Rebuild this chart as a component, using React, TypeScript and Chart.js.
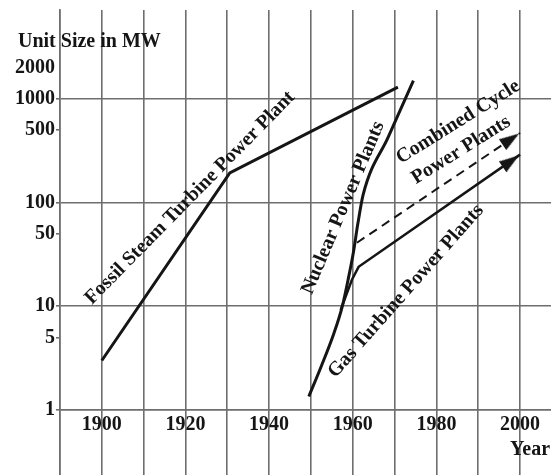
import React, { useEffect, useRef } from 'react';
import { Chart, registerables } from 'chart.js';

Chart.register(...registerables);

// ---- Data ----
const fossilYears = [1900, 1930.6, 1970.8];
const fossilMW = [3.0, 193, 1300];

const nuclearYears = [1949.5, 1952.4, 1955.5, 1957.5, 1959.0, 1960.2, 1961.2, 1962.5, 1968.5, 1974.5];
const nuclearMW = [1.35, 2.6, 5.5, 10, 19, 34, 62, 120, 430, 1500];

const gasYears = [1957.1, 1959.8, 1961.4, 2000];
const gasMW = [9.2, 18, 24, 290];

const combinedYears = [1961, 2000];
const combinedMW = [41, 469];

const arrowYears = [1997.8, 1997.8];
const arrowMW = [409, 251];

const xGridYears = [1890, 1900, 1910, 1920, 1930, 1940, 1950, 1960, 1970, 1980, 1990, 2000];
const xLabelYears = [1900, 1920, 1940, 1960, 1980, 2000];
const yTickValues = [1, 5, 10, 50, 100, 500, 1000, 2000];
const yGridValues = [1, 10, 100, 1000];

const yTitle = 'Unit Size in MW';
const xTitle = 'Year';

const labels = [
  { text: 'Fossil Steam Turbine Power Plant', year: 1921.1, mw: 111, angle: -45.5 },
  { text: 'Nuclear Power Plants', year: 1957.7, mw: 89, angle: -67 },
  { text: 'Combined Cycle', year: 1985.2, mw: 598, angle: -32 },
  { text: 'Power Plants', year: 1985.9, mw: 321, angle: -32 },
  { text: 'Gas Turbine Power Plants', year: 1972.7, mw: 14, angle: -48.5 },
];

const FONT = '"Liberation Serif", "Times New Roman", serif';
const INK = '#151515';
const GRID = '#6e6e6e';

const pts = (xs: number[], ys: number[]) => xs.map((x, i) => ({ x, y: ys[i] }));

const textPlugin = {
  id: 'chartTexts',
  afterDatasetsDraw(chart: any) {
    const { ctx, scales } = chart;
    const x = scales.x;
    const y = scales.y;
    ctx.save();
    ctx.fillStyle = INK;
    ctx.font = `bold 20px ${FONT}`;
    ctx.textAlign = 'center';
    ctx.textBaseline = 'middle';
    labels.forEach((a) => {
      ctx.save();
      ctx.translate(x.getPixelForValue(a.year), y.getPixelForValue(a.mw));
      ctx.rotate((a.angle * Math.PI) / 180);
      ctx.fillText(a.text, 0, 0);
      ctx.restore();
    });
    ctx.textAlign = 'left';
    ctx.fillText(yTitle, 18, chart.chartArea.top + 32);
    ctx.fillText(xTitle, x.getPixelForValue(2000) - 10, y.getPixelForValue(1) + 40);
    ctx.restore();
  },
};

export default function App() {
  const ref = useRef<HTMLCanvasElement | null>(null);

  useEffect(() => {
    if (!ref.current) return;
    const arrow = document.createElement('canvas');
    arrow.width = 13;
    arrow.height = 20;
    const actx = arrow.getContext('2d')!;
    actx.fillStyle = INK;
    actx.beginPath();
    actx.moveTo(6.5, 0);
    actx.lineTo(13, 20);
    actx.lineTo(0, 20);
    actx.closePath();
    actx.fill();

    const lineDs = (data: any[], extra: any = {}) => ({
      data,
      borderColor: INK,
      borderWidth: 3,
      pointRadius: 0,
      fill: false,
      tension: 0,
      ...extra,
    });

    const chart = new Chart(ref.current, {
      type: 'line',
      data: {
        datasets: [
          lineDs(pts(fossilYears, fossilMW)),
          lineDs(pts(nuclearYears, nuclearMW), { cubicInterpolationMode: 'monotone' }),
          lineDs(pts(gasYears, gasMW), { borderWidth: 2.5 }),
          lineDs(pts(combinedYears, combinedMW), { borderWidth: 2, borderDash: [9, 6] }),
          {
            data: pts(arrowYears, arrowMW),
            showLine: false,
            pointStyle: arrow as any,
            pointRadius: 10,
            pointRotation: [56, 55],
            borderColor: INK,
            backgroundColor: INK,
          } as any,
        ],
      },
      options: {
        animation: false,
        responsive: false,
        layout: { autoPadding: false, padding: { top: 10, left: 0, right: 0, bottom: 0 } },
        plugins: { legend: { display: false }, tooltip: { enabled: false }, title: { display: false } },
        scales: {
          x: {
            type: 'linear',
            min: 1890,
            max: 2007.4,
            position: { y: 1 } as any,
            afterBuildTicks: (s: any) => {
              s.ticks = xGridYears.map((v) => ({ value: v }));
            },
            afterFit: (s: any) => {
              s.paddingLeft = 0;
              s.paddingRight = 0;
            },
            ticks: {
              autoSkip: false,
              maxRotation: 0,
              padding: 3,
              color: INK,
              font: { family: FONT, size: 20, weight: 'bold' },
              callback: (v: any) => (xLabelYears.includes(Number(v)) ? String(v) : ''),
            },
            grid: { color: GRID, lineWidth: 1.6, drawTicks: false },
            border: { display: true, color: GRID, width: 1.6 },
          },
          y: {
            type: 'logarithmic',
            min: 0.236,
            max: 7194,
            afterBuildTicks: (s: any) => {
              s.ticks = yTickValues.map((v) => ({ value: v }));
            },
            afterFit: (s: any) => {
              s.width = 60;
              s.paddingTop = 0;
              s.paddingBottom = 0;
            },
            ticks: {
              autoSkip: false,
              padding: 1,
              color: INK,
              font: { family: FONT, size: 20, weight: 'bold' },
              callback: (v: any) => String(v),
            },
            grid: {
              color: (c: any) => (yGridValues.includes(c.tick?.value) ? GRID : 'rgba(0,0,0,0)'),
              tickColor: (c: any) => (c.tick?.value === 2000 ? 'rgba(0,0,0,0)' : GRID),
              lineWidth: 1.6,
              tickLength: 4,
            },
            border: { display: true, color: GRID, width: 1.6 },
          },
        },
      },
      plugins: [textPlugin],
    });
    return () => chart.destroy();
  }, []);

  return (
    <div style={{ position: 'fixed', left: 0, top: 0, width: 551, height: 475, background: '#fff' }}>
      <canvas ref={ref} width={551} height={475} style={{ display: 'block' }} />
    </div>
  );
}
